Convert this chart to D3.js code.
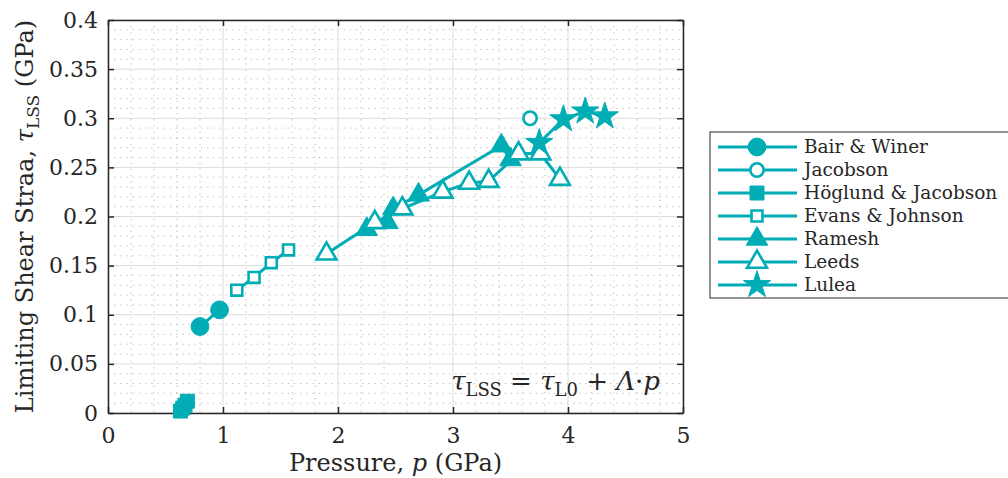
<!DOCTYPE html>
<meta charset="utf-8">
<style>
    body { margin: 0; background: #fff; }
    .grid-major line { stroke: #dcdcdc; stroke-width: 1; }
    .grid-minor line { stroke: #b8b8b8; stroke-width: 1; stroke-dasharray: 1.2,5; }
</style>
<body>
<div id="plotarea"></div>
<script src="https://cdn.jsdelivr.net/npm/d3@7"></script>
<script>

    var seriesNames = ["Bair & Winer", "Jacobson", "Höglund & Jacobson", "Evans & Johnson", "Ramesh", "Leeds", "Lulea"];

    var bairWiner = [[0.80, 0.088], [0.97, 0.105]];
    var jacobson = [[3.67, 0.300]];
    var hoglundJacobson = [[0.63, 0.002], [0.65, 0.005], [0.67, 0.008], [0.69, 0.012]];
    var evansJohnson = [[1.12, 0.125], [1.27, 0.138], [1.42, 0.153], [1.57, 0.166]];
    var ramesh = [[2.25, 0.187], [2.43, 0.194], [2.48, 0.208], [2.70, 0.222], [3.42, 0.272], [3.50, 0.258]];
    var leeds = [[1.90, 0.162], [2.32, 0.194], [2.56, 0.208], [2.91, 0.225], [3.14, 0.234], [3.31, 0.236], [3.57, 0.264], [3.76, 0.264], [3.93, 0.238]];
    var lulea = [[3.75, 0.275], [3.96, 0.299], [4.15, 0.307], [4.32, 0.302]];

    var xTicks = [0, 1, 2, 3, 4, 5];
    var yTicks = [0, 0.05, 0.1, 0.15, 0.2, 0.25, 0.3, 0.35, 0.4];

    var color = "#00adb5";
    var font = "'DejaVu Serif', 'Liberation Serif', serif";

    var series = [
        {name: seriesNames[0], values: bairWiner, shape: d3.symbolCircle, size: 250, filled: true},
        {name: seriesNames[1], values: jacobson, shape: d3.symbolCircle, size: 140, filled: false},
        {name: seriesNames[2], values: hoglundJacobson, shape: d3.symbolSquare, size: 196, filled: true},
        {name: seriesNames[3], values: evansJohnson, shape: d3.symbolSquare, size: 120, filled: false},
        {name: seriesNames[4], values: ramesh, shape: d3.symbolTriangle, size: 200, filled: true},
        {name: seriesNames[5], values: leeds, shape: d3.symbolTriangle, size: 170, filled: false},
        {name: seriesNames[6], values: lulea, shape: d3.symbolStar, size: 230, filled: true}
    ];

    var margin = {top: 20, left: 108},
        width = 575,
        height = 393;

    var x = d3.scaleLinear().domain([0, 5]).range([0, width]);
    var y = d3.scaleLinear().domain([0, 0.4]).range([height, 0]);

    var svg = d3.select("#plotarea").append("svg")
        .attr("width", 1008)
        .attr("height", 478)
        .style("font-family", font);

    var g = svg.append("g")
        .attr("transform", "translate(" + margin.left + "," + margin.top + ")");

    // minor grid
    var minor = g.append("g").attr("class", "grid-minor");
    minor.selectAll(".mx").data(d3.range(0, 5.01, 0.2).filter(function(v) { return Math.abs(v - Math.round(v)) > 1e-6; }))
        .enter().append("line")
        .attr("x1", function(d) { return x(d); }).attr("x2", function(d) { return x(d); })
        .attr("y1", 0).attr("y2", height);
    minor.selectAll(".my").data(d3.range(0, 0.401, 0.01).filter(function(v) { return Math.abs(v / 0.05 - Math.round(v / 0.05)) > 1e-6; }))
        .enter().append("line")
        .attr("y1", function(d) { return y(d); }).attr("y2", function(d) { return y(d); })
        .attr("x1", 0).attr("x2", width);

    // major grid
    var major = g.append("g").attr("class", "grid-major");
    major.selectAll(".gx").data(xTicks).enter().append("line")
        .attr("x1", function(d) { return x(d); }).attr("x2", function(d) { return x(d); })
        .attr("y1", 0).attr("y2", height);
    major.selectAll(".gy").data(yTicks).enter().append("line")
        .attr("y1", function(d) { return y(d); }).attr("y2", function(d) { return y(d); })
        .attr("x1", 0).attr("x2", width);

    // axes
    g.append("g")
        .attr("transform", "translate(0," + height + ")")
        .call(d3.axisBottom(x).tickValues(xTicks).tickSizeInner(-6).tickSizeOuter(0).tickPadding(14).tickFormat(d3.format("d")));
    g.append("g")
        .call(d3.axisLeft(y).tickValues(yTicks).tickSizeInner(-6).tickSizeOuter(0).tickPadding(10).tickFormat(function(d) { return String(+d.toFixed(2)); }));
    g.append("g")
        .call(d3.axisTop(x).tickValues(xTicks).tickSizeInner(-6).tickSizeOuter(0).tickFormat(""));
    g.append("g")
        .attr("transform", "translate(" + width + ",0)")
        .call(d3.axisRight(y).tickValues(yTicks).tickSizeInner(-6).tickSizeOuter(0).tickFormat(""));
    g.selectAll(".domain, .tick line").attr("stroke", "#262626").attr("stroke-width", 1.5);
    g.selectAll(".tick text")
        .attr("fill", "#262626")
        .attr("font-family", null)
        .style("font-family", font)
        .style("font-size", "22px");

    // series
    var layer = g.selectAll(".layer").data(series).enter().append("g").attr("class", "layer");

    layer.append("path")
        .attr("fill", "none")
        .attr("stroke", color)
        .attr("stroke-width", 3)
        .attr("d", function(d) {
            return d3.line().x(function(p) { return x(p[0]); }).y(function(p) { return y(p[1]); })(d.values);
        });

    layer.each(function(s) {
        d3.select(this).selectAll(".pt").data(s.values).enter().append("path")
            .attr("transform", function(p) { return "translate(" + x(p[0]) + "," + y(p[1]) + ")"; })
            .attr("d", d3.symbol().type(s.shape).size(s.size))
            .attr("fill", s.filled ? color : "#fff")
            .attr("stroke", color)
            .attr("stroke-width", s.filled ? 1 : 2.6);
    });

    // annotation
    var ann = g.append("text")
        .attr("x", x(4.8))
        .attr("y", y(0.023))
        .attr("text-anchor", "end")
        .attr("fill", "#262626")
        .style("font-size", "26px");
    ann.append("tspan").style("font-style", "italic").text("τ");
    ann.append("tspan").attr("dy", 6).style("font-size", "18px").text("LSS");
    ann.append("tspan").attr("dy", -6).text(" = ");
    ann.append("tspan").style("font-style", "italic").text("τ");
    ann.append("tspan").attr("dy", 6).style("font-size", "18px").text("L0");
    ann.append("tspan").attr("dy", -6).text(" + ");
    ann.append("tspan").style("font-style", "italic").text("Λ");
    ann.append("tspan").text("·");
    ann.append("tspan").style("font-style", "italic").text("p");

    // axis labels
    var xl = svg.append("text")
        .attr("x", margin.left + width / 2)
        .attr("y", 471)
        .attr("text-anchor", "middle")
        .attr("fill", "#262626")
        .style("font-size", "24px");
    xl.append("tspan").text("Pressure, ");
    xl.append("tspan").style("font-style", "italic").text("p");
    xl.append("tspan").text(" (GPa)");

    var yl = svg.append("text")
        .attr("transform", "translate(33," + (margin.top + height / 2) + ") rotate(-90)")
        .attr("text-anchor", "middle")
        .attr("fill", "#262626")
        .style("font-size", "24px");
    yl.append("tspan").text("Limiting Shear Straa, ");
    yl.append("tspan").style("font-style", "italic").text("τ");
    yl.append("tspan").attr("dy", 6).style("font-size", "17px").text("LSS");
    yl.append("tspan").attr("dy", -6).text(" (GPa)");

    // legend
    var legend = svg.append("g").attr("transform", "translate(710,132)");
    legend.append("rect")
        .attr("width", 310).attr("height", 166)
        .attr("fill", "#fff").attr("stroke", "#262626").attr("stroke-width", 1);

    var item = legend.selectAll(".item").data(series).enter().append("g")
        .attr("transform", function(d, i) { return "translate(0," + (15 + i * 23) + ")"; });
    item.append("line")
        .attr("x1", 8).attr("x2", 87)
        .attr("stroke", color).attr("stroke-width", 3);
    item.append("path")
        .attr("transform", "translate(47,0)")
        .attr("d", function(d) { return d3.symbol().type(d.shape).size(d.size)(); })
        .attr("fill", function(d) { return d.filled ? color : "#fff"; })
        .attr("stroke", color)
        .attr("stroke-width", function(d) { return d.filled ? 1 : 2.6; });
    item.append("text")
        .attr("x", 94).attr("dy", "0.35em")
        .attr("fill", "#262626")
        .style("font-size", "18.5px")
        .text(function(d) { return d.name; });

</script>
